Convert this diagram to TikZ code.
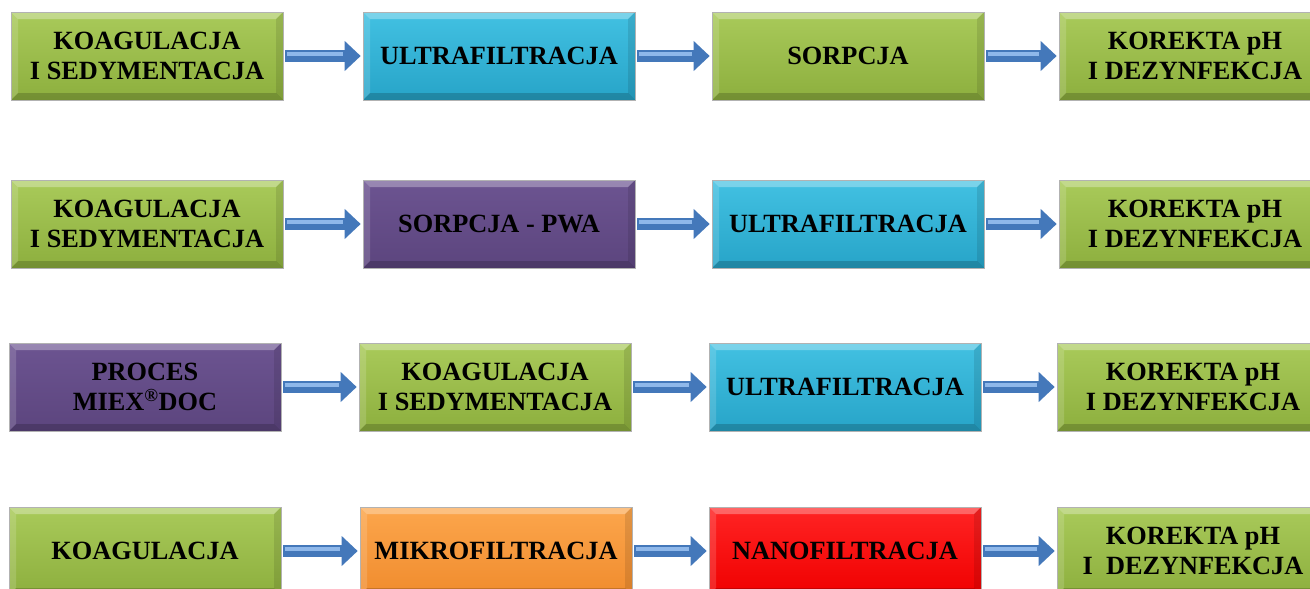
\documentclass[tikz,border=0pt]{standalone}
\usepackage{fontspec}
\setmainfont{Liberation Serif}
\usetikzlibrary{arrows.meta}
\definecolor{stgreenT}{HTML}{A9CA5A}
\definecolor{stgreenB}{HTML}{8DAF3E}
\definecolor{stblueT}{HTML}{42C1E2}
\definecolor{stblueB}{HTML}{27A4C8}
\definecolor{stpurpleT}{HTML}{6C5491}
\definecolor{stpurpleB}{HTML}{5C457E}
\definecolor{storangeT}{HTML}{FCA64C}
\definecolor{storangeB}{HTML}{F08C2E}
\definecolor{stredT}{HTML}{FF2424}
\definecolor{stredB}{HTML}{F00000}
\definecolor{pipeblue}{HTML}{4478BA}
\definecolor{pipelight}{HTML}{8FB8EA}
\newcommand{\bev}{7pt}

\tikzset{
  stage/.style={draw=black!30, line width=.6pt, minimum width=272pt, minimum height=88pt,
    inner sep=0pt, align=center, font=\fontsize{26.3}{30.5}\selectfont\bfseries,
    path picture={
      \fill[white,opacity=.3] (path picture bounding box.north west) -- (path picture bounding box.north east)
        -- ([xshift=-\bev,yshift=-\bev]path picture bounding box.north east) -- ([xshift=\bev,yshift=-\bev]path picture bounding box.north west) -- cycle;
      \fill[white,opacity=.15] (path picture bounding box.north west) -- ([xshift=\bev,yshift=-\bev]path picture bounding box.north west)
        -- ([xshift=\bev,yshift=\bev]path picture bounding box.south west) -- (path picture bounding box.south west) -- cycle;
      \fill[black,opacity=.18] (path picture bounding box.south west) -- (path picture bounding box.south east)
        -- ([xshift=-\bev,yshift=\bev]path picture bounding box.south east) -- ([xshift=\bev,yshift=\bev]path picture bounding box.south west) -- cycle;
      \fill[black,opacity=.1] (path picture bounding box.north east) -- ([xshift=-\bev,yshift=-\bev]path picture bounding box.north east)
        -- ([xshift=-\bev,yshift=\bev]path picture bounding box.south east) -- (path picture bounding box.south east) -- cycle;
    }},
  green/.style={top color=stgreenT, bottom color=stgreenB},
  blue/.style={top color=stblueT, bottom color=stblueB},
  purple/.style={top color=stpurpleT, bottom color=stpurpleB},
  orange/.style={top color=storangeT, bottom color=storangeB},
  red/.style={top color=stredT, bottom color=stredB},
  pipe/.style={line width=12pt, pipeblue, shorten <=2pt, shorten >=2pt,
    -{Triangle[length=16pt,width=29pt]},
    postaction={draw=pipelight, line width=4pt, shorten <=4pt, shorten >=20pt, -, transform canvas={yshift=2pt}}}
}

\begin{document}
\begin{tikzpicture}[x=1pt,y=-1pt]
  \useasboundingbox (0,0) rectangle (1310,589);
  \clip (0,0) rectangle (1310,589);

  % row 1
  \node (11) at (147,56) [stage, green] {KOAGULACJA\\I SEDYMENTACJA};
  \node (12) at (499,56) [stage, blue] {ULTRAFILTRACJA};
  \node (13) at (848,56) [stage, green] {SORPCJA};
  \node (14) at (1195,56) [stage, green] {KOREKTA pH\\I DEZYNFEKCJA};
  \draw[pipe] (11) -- (12);
  \draw[pipe] (12) -- (13);
  \draw[pipe] (13) -- (14);

  % row 2
  \node (21) at (147,224) [stage, green] {KOAGULACJA\\I SEDYMENTACJA};
  \node (22) at (499,224) [stage, purple] {SORPCJA - PWA};
  \node (23) at (848,224) [stage, blue] {ULTRAFILTRACJA};
  \node (24) at (1195,224) [stage, green] {KOREKTA pH\\I DEZYNFEKCJA};
  \draw[pipe] (21) -- (22);
  \draw[pipe] (22) -- (23);
  \draw[pipe] (23) -- (24);

  % row 3
  \node (31) at (145,387) [stage, purple] {PROCES\\MIEX\textsuperscript{®}DOC};
  \node (32) at (495,387) [stage, green] {KOAGULACJA\\I SEDYMENTACJA};
  \node (33) at (845,387) [stage, blue] {ULTRAFILTRACJA};
  \node (34) at (1193,387) [stage, green] {KOREKTA pH\\I DEZYNFEKCJA};
  \draw[pipe] (31) -- (32);
  \draw[pipe] (32) -- (33);
  \draw[pipe] (33) -- (34);

  % row 4
  \node (41) at (145,551) [stage, green] {KOAGULACJA};
  \node (42) at (496,551) [stage, orange] {MIKROFILTRACJA};
  \node (43) at (845,551) [stage, red] {NANOFILTRACJA};
  \node (44) at (1193,551) [stage, green] {KOREKTA pH\\I~~DEZYNFEKCJA};
  \draw[pipe] (41) -- (42);
  \draw[pipe] (42) -- (43);
  \draw[pipe] (43) -- (44);
\end{tikzpicture}
\end{document}
